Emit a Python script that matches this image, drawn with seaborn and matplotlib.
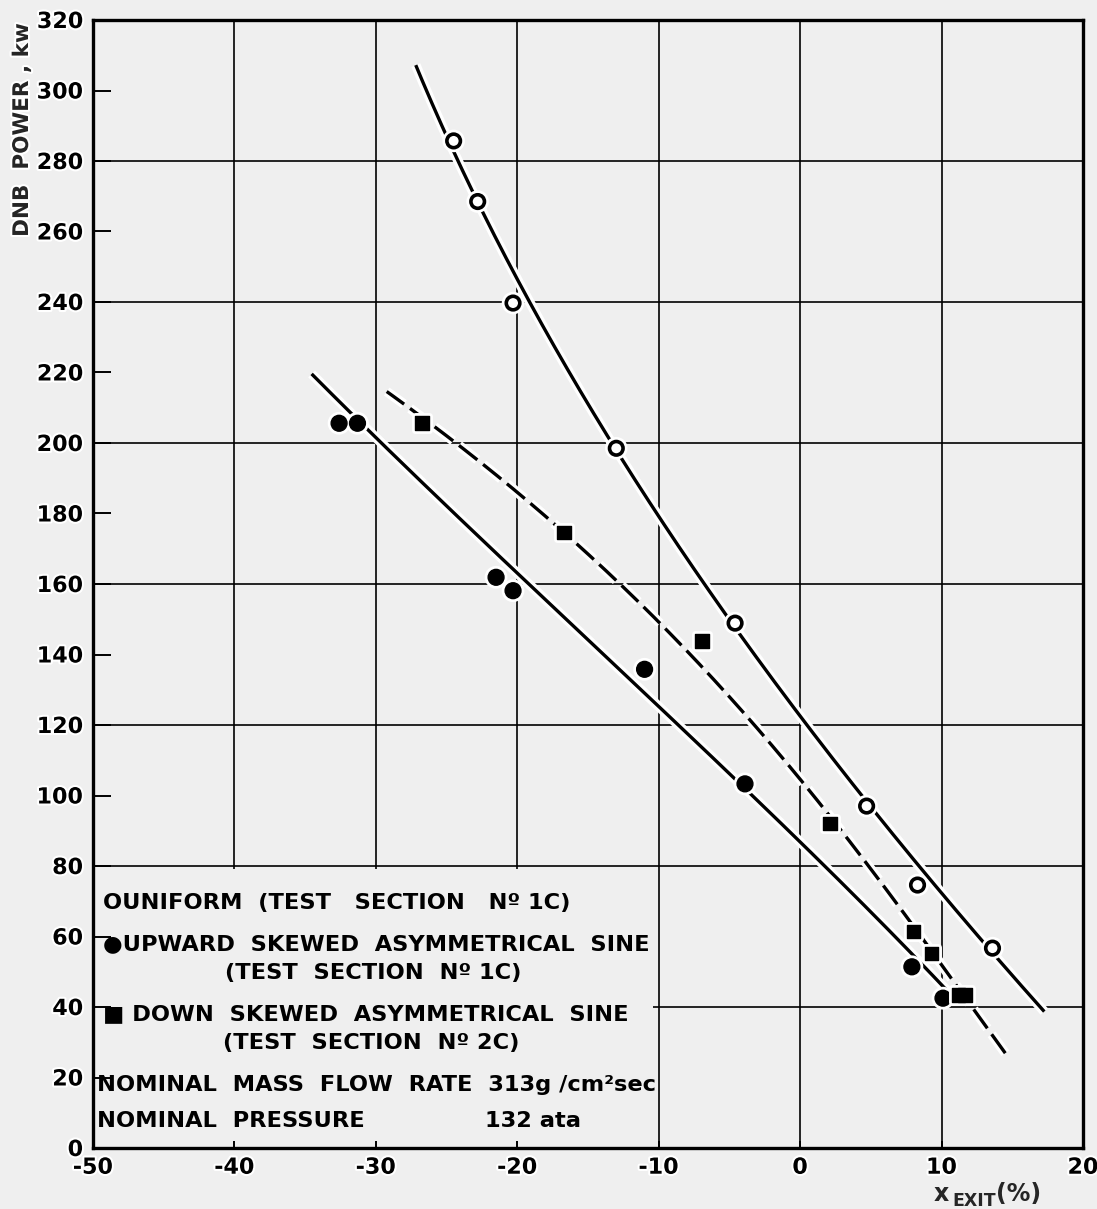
import numpy as np
import matplotlib
matplotlib.use("Agg")
import matplotlib.pyplot as plt
import matplotlib.patheffects as pe
from matplotlib.path import Path
import seaborn as sns

# ---- measured DNB points -------------------------------------------------
uniform_x = [-24.5, -22.8, -20.3, -13.0, -4.6, 4.7, 8.3, 13.6]
uniform_p = [285.7, 268.5, 239.7, 198.5, 148.9, 97.0, 74.6, 56.7]

upward_x = [-32.6, -31.3, -21.5, -20.3, -11.0, -3.9, 7.9, 10.1]
upward_p = [205.6, 205.6, 161.9, 158.1, 135.8, 103.3, 51.4, 42.5]

down_x = [-26.75, -16.7, -6.95, 2.1, 8.0, 9.3, 11.2, 11.65]
down_p = [205.6, 174.6, 143.8, 92.1, 61.4, 55.2, 43.4, 43.4]

# ---- nodes along the hand-faired curves -----------------------------------
uniform_curve_x = [-27.1, -24.3, -22.8, -19.2, -13.0, -6.7, 1.4, 7.1, 10.4, 13.6, 17.2]
uniform_curve_p = [307.2, 280.0, 268.5, 240.0, 198.5, 160.0, 115.7, 84.5, 70.4, 56.7, 38.7]

upward_curve_x = [-34.5, -29.7, -19.1, 1.56, 8.5, 10.6]
upward_curve_p = [219.6, 200.0, 160.0, 80.0, 53.9, 43.0]

down_curve_x = [-28.8, -26.75, -16.7, -12.5, -8.7, -3.3, 4.95, 6.6, 10.7, 14.6]
down_curve_p = [214.6, 205.6, 174.6, 160.0, 143.8, 120.0, 80.0, 70.4, 47.2, 26.9]

x_ticks = [-50, -40, -30, -20, -10, 0, 10, 20]
y_ticks = list(range(0, 321, 20))
y_grid = [40, 80, 120, 160, 200, 240, 280]

legend_lines = [
    ("OUNIFORM  (TEST   SECTION   N\u00ba 1C)", 103, 903),
    ("\u25cfUPWARD  SKEWED  ASYMMETRICAL  SINE", 103, 944),
    ("(TEST  SECTION  N\u00ba 1C)", 225, 973),
    ("\u25a0 DOWN  SKEWED  ASYMMETRICAL  SINE", 103, 1014),
    ("(TEST  SECTION  N\u00ba 2C)", 223, 1043),
    ("NOMINAL  MASS  FLOW  RATE  313g /cm\u00b2sec", 97, 1085),
    ("NOMINAL  PRESSURE", 97, 1121),
    ("132 ata", 485, 1121),
]

BG = "#efefef"
W, H = 1097, 1209

sns.set_style("ticks")
plt.rcParams["font.family"] = ["DejaVu Sans"]
plt.rcParams["font.weight"] = "bold"
plt.rcParams["axes.unicode_minus"] = False

fig = plt.figure(figsize=(W / 100, H / 100), dpi=100, facecolor=BG)
ax = fig.add_axes([93 / W, 1 - 1148 / H, (1083 - 93) / W, (1148 - 20) / H])
ax.set_facecolor(BG)

halo_line = [pe.Stroke(linewidth=7.0, foreground="white"), pe.Normal()]


def faired(xs, ps, deg=3, n=300):
    """Smooth curve x(p) fitted through the faired nodes."""
    coef = np.polyfit(ps, xs, deg)
    pp = np.linspace(min(ps), max(ps), n)
    return np.polyval(coef, pp), pp


# curves
for cx, cp, ls in [
    (uniform_curve_x, uniform_curve_p, "-"),
    (upward_curve_x, upward_curve_p, "-"),
    (down_curve_x, down_curve_p, (0, (7.0, 2.2))),
]:
    fx, fp = faired(cx, cp)
    sns.lineplot(x=fx, y=fp, sort=False, estimator=None, color="black",
                 linewidth=2.4, linestyle=ls, ax=ax, zorder=3)
    ln = ax.lines[-1]
    ln.set_path_effects(halo_line)
    ln.set_solid_capstyle("butt")
    ln.set_dash_capstyle("butt")

# points
sns.scatterplot(x=uniform_x, y=uniform_p, marker="o", s=95, ax=ax, zorder=4)
c = ax.collections[-1]
c.set_facecolor("white"); c.set_edgecolor("black"); c.set_linewidth(2.6)
c.set_path_effects([pe.Stroke(linewidth=6.5, foreground="white"), pe.Normal()])

sns.scatterplot(x=upward_x, y=upward_p, marker="o", s=130, ax=ax, zorder=4)
c = ax.collections[-1]
c.set_facecolor("black"); c.set_edgecolor("black"); c.set_linewidth(1.0)
c.set_path_effects([pe.Stroke(linewidth=5.0, foreground="white"), pe.Normal()])

sns.scatterplot(x=down_x, y=down_p, marker="s", s=95, ax=ax, zorder=4)
c = ax.collections[-1]
c.set_facecolor("black"); c.set_edgecolor("black"); c.set_linewidth(1.0)
c.set_path_effects([pe.Stroke(linewidth=5.0, foreground="white"), pe.Normal()])

# axes
ax.set_xlim(-50, 20)
ax.set_ylim(0, 320)
ax.set_xticks(x_ticks)
ax.set_yticks(y_ticks)
ax.set_xlabel("")
ax.set_ylabel("")
for s in ax.spines.values():
    s.set_visible(True)
    s.set_linewidth(2.4)
    s.set_color("black")
ax.tick_params(axis="y", direction="in", length=13, width=1.4, pad=7,
               labelsize=16, colors="black", left=True, right=False)
ax.tick_params(axis="x", direction="in", length=5, width=1.4, pad=7,
               labelsize=16, colors="black", bottom=True, top=False)
for lbl in ax.get_xticklabels() + ax.get_yticklabels():
    lbl.set_fontweight("bold")
    lbl.set_path_effects([pe.withStroke(linewidth=3, foreground="white")])

# grid: every 10 in x, every 40 in y, kept clear of the key box
ax.grid(True, axis="x", color="black", linewidth=1.2)
ax.yaxis.grid(False)
for g in y_grid:
    ax.axhline(g, color="black", linewidth=1.2, zorder=0.6)
fig.canvas.draw()
clip = Path([(-50, 79.2), (-10.4, 79.2), (-10.4, 0), (20, 0), (20, 320),
             (-50, 320), (-50, 79.2)])
for gl in ax.get_xgridlines() + ax.lines[-len(y_grid):]:
    gl.set_clip_path(clip, transform=ax.transData)
ax.set_axisbelow(True)


def px(x, y):
    return x / W, 1 - y / H


# key text
for txt, x0, y0 in legend_lines:
    fig.text(*px(x0, y0), txt, fontsize=16.2, fontweight="bold",
             ha="left", va="center", color="black")

# axis titles
fig.text(*px(22, 130), "DNB  POWER , kw", rotation=90, fontsize=15.5,
         fontweight="bold", ha="center", va="center",
         path_effects=[pe.withStroke(linewidth=3, foreground="white")])
fig.text(*px(941, 1194), "x", fontsize=17, fontweight="bold",
         ha="center", va="center")
fig.text(*px(952, 1201), "EXIT", fontsize=12.5, fontweight="bold",
         ha="left", va="center")
fig.text(*px(996, 1194), "(%)", fontsize=17, fontweight="bold",
         ha="left", va="center")

fig.savefig("out.png", dpi=100, facecolor=BG)
